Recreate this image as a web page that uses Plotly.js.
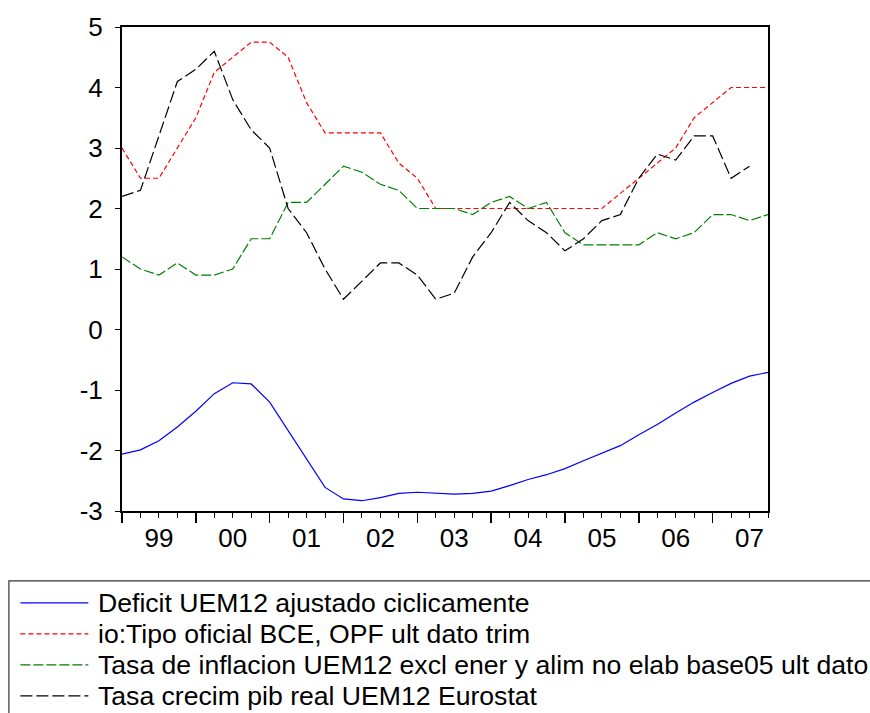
<!DOCTYPE html>
<html>
<head>
<meta charset="utf-8">
<script src="https://cdn.plot.ly/plotly-3.0.1.min.js"></script>
<style>
html,body{margin:0;padding:0;background:#fff;}
#chart{width:870px;height:713px;}
</style>
</head>
<body>
<div id="chart"></div>
<script>
// Quarterly observations 1999Q1 .. 2007Q4
const quarters = ["1999Q1","1999Q2","1999Q3","1999Q4","2000Q1","2000Q2","2000Q3","2000Q4",
  "2001Q1","2001Q2","2001Q3","2001Q4","2002Q1","2002Q2","2002Q3","2002Q4",
  "2003Q1","2003Q2","2003Q3","2003Q4","2004Q1","2004Q2","2004Q3","2004Q4",
  "2005Q1","2005Q2","2005Q3","2005Q4","2006Q1","2006Q2","2006Q3","2006Q4",
  "2007Q1","2007Q2","2007Q3","2007Q4"];

const deficit = [-2.06,-1.99,-1.84,-1.61,-1.35,-1.06,-0.88,-0.90,
  -1.20,-1.67,-2.15,-2.61,-2.80,-2.83,-2.78,-2.71,
  -2.69,-2.70,-2.72,-2.71,-2.67,-2.58,-2.48,-2.40,
  -2.30,-2.17,-2.05,-1.92,-1.74,-1.57,-1.38,-1.20,
  -1.04,-0.89,-0.77,-0.71];

const tipoBCE = [3.0,2.5,2.5,3.0,3.5,4.25,4.5,4.75,
  4.75,4.5,3.75,3.25,3.25,3.25,3.25,2.75,
  2.5,2.0,2.0,2.0,2.0,2.0,2.0,2.0,
  2.0,2.0,2.0,2.25,2.5,2.75,3.0,3.5,
  3.75,4.0,4.0,4.0];

const inflacion = [1.2,1.0,0.9,1.1,0.9,0.9,1.0,1.5,
  1.5,2.1,2.1,2.4,2.7,2.6,2.4,2.3,
  2.0,2.0,2.0,1.9,2.1,2.2,2.0,2.1,
  1.6,1.4,1.4,1.4,1.4,1.6,1.5,1.6,
  1.9,1.9,1.8,1.9];

const pib = [2.2,2.3,3.2,4.1,4.3,4.6,3.8,3.3,
  3.0,2.0,1.6,1.0,0.5,0.8,1.1,1.1,
  0.9,0.5,0.6,1.2,1.6,2.1,1.8,1.6,
  1.3,1.5,1.8,1.9,2.5,2.9,2.8,3.2,
  3.2,2.5,2.7,null];

const yearLabels = ["99","00","01","02","03","04","05","06","07"];
const yTickVals = [-3,-2,-1,0,1,2,3,4,5];
const yTickText = ["-3","-2","-1","0","1","2","3","4","5"];

const names = [
  "Deficit UEM12 ajustado ciclicamente",
  "io:Tipo oficial BCE, OPF ult dato trim",
  "Tasa de inflacion UEM12 excl ener y alim no elab base05 ult dato",
  "Tasa crecim pib real UEM12 Eurostat"
];
const colors = ["#0000ff", "#ff0000", "#008000", "#000000"];
const dashes = ["solid", "5px,3px", "10px,3px", "12px,4px"];

const idx = quarters.map((q,i)=>i);
const yearStartIdx = idx.filter(i=>quarters[i].endsWith("Q1"));
const yearMidIdx = idx.filter(i=>quarters[i].endsWith("Q3"));

const FONT = "Liberation Sans, Arial, sans-serif";
const W = 870, H = 713;
const M = {l: 121.7, r: 101.7, t: 27.3, b: 201.5};
const PW = W - M.l - M.r, PH = H - M.t - M.b;
// pixel -> paper coordinates (for legend decoration only)
const px = v => (v - M.l) / PW;
const py = v => (H - M.b - v) / PH;

const series = [deficit, tipoBCE, inflacion, pib];
const data = series.map((s, i) => ({
  x: idx, y: s, type: "scatter", mode: "lines", name: names[i],
  line: {color: colors[i], width: 1.2, dash: dashes[i]},
  hoverinfo: "skip", showlegend: false
}));
data.push({x: [], y: [], xaxis: "x2", yaxis: "y", type: "scatter", mode: "lines",
  showlegend: false, hoverinfo: "skip"});

// Legend box drawn as decoration (entries from the names/colors arrays)
const shapes = [{
  type: "rect", xref: "paper", yref: "paper",
  x0: px(8.5), x1: px(900), y0: py(581.5), y1: py(740),
  line: {color: "#333", width: 1.2}, fillcolor: "rgba(0,0,0,0)", layer: "above"
}];
const annotations = [];
names.forEach((n, i) => {
  const yc = 603.5 + 31 * i;
  shapes.push({type: "line", xref: "paper", yref: "paper",
    x0: px(20), x1: px(88), y0: py(yc), y1: py(yc),
    line: {color: colors[i], width: 1.2, dash: dashes[i]}});
  annotations.push({xref: "paper", yref: "paper", x: px(96), y: py(yc),
    xanchor: "left", yanchor: "middle", showarrow: false, text: n,
    font: {family: FONT, size: 26.6, color: "#000"}});
});

const xr = [0, quarters.length - 1];

const layout = {
  width: W, height: H,
  margin: {l: M.l, r: M.r, t: M.t, b: M.b, pad: 0, autoexpand: false},
  paper_bgcolor: "#fff", plot_bgcolor: "#fff",
  font: {family: FONT, size: 26, color: "#000"},
  showlegend: false,
  xaxis: {
    range: xr, showgrid: false, zeroline: false, automargin: false,
    showline: true, mirror: true, linecolor: "#000", linewidth: 2,
    tickmode: "array", tickvals: yearStartIdx, ticks: "outside",
    ticklen: 10, tickwidth: 1.5, tickcolor: "#000", showticklabels: false,
    minor: {tickmode: "array", tickvals: idx, ticks: "outside", ticklen: 5,
            tickwidth: 1, tickcolor: "#000", showgrid: false}
  },
  xaxis2: {
    overlaying: "x", anchor: "y", side: "bottom", range: xr, automargin: false,
    showgrid: false, zeroline: false, showline: false,
    tickmode: "array", tickvals: yearMidIdx, ticktext: yearLabels,
    ticks: "", ticklabelstandoff: 9,
    tickfont: {family: FONT, size: 26, color: "#000"}
  },
  yaxis: {
    range: [-3, 5], showgrid: false, zeroline: false, automargin: false,
    showline: true, mirror: true, linecolor: "#000", linewidth: 2,
    tickmode: "array", tickvals: yTickVals, ticktext: yTickText,
    ticks: "outside", ticklen: 5, tickwidth: 1, tickcolor: "#000",
    ticklabelstandoff: 7,
    tickfont: {family: FONT, size: 26, color: "#000"}
  },
  shapes: shapes,
  annotations: annotations
};

Plotly.newPlot("chart", data, layout, {displayModeBar: false, staticPlot: true});
</script>
</body>
</html>
